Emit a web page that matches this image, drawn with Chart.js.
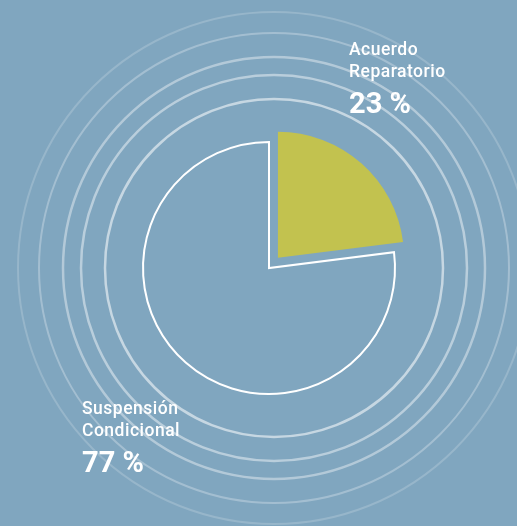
<!DOCTYPE html>
<html lang="es">
<head>
<meta charset="utf-8">
<title>Salidas alternativas</title>
<script src="https://cdn.jsdelivr.net/npm/chart.js@4/dist/chart.umd.min.js"></script>
<style>
html, body { margin: 0; padding: 0; background: #80a6bf; overflow: hidden; }
canvas { display: block; }
</style>
</head>
<body>
<canvas id="pie" width="517" height="526"></canvas>
<script>
// data
const labels = [['Acuerdo', 'Reparatorio'], ['Suspensión', 'Condicional']];
const values = [23, 77];
const fills = ['#c2c24f', 'rgba(0,0,0,0)'];
const borders = ['#c2c24f', '#ffffff'];

// decorative rings round the pie: radius, opacity
const ringRadii = [169, 193, 211, 235, 256];
const ringAlpha = [0.55, 0.45, 0.4, 0.28, 0.18];

// where the label blocks sit (left x, first baseline)
const labelPos = [[349, 55], [82, 414]];

const rings = {
  id: 'rings',
  beforeDatasetsDraw(chart) {
    const arc = chart.getDatasetMeta(0).data[1];
    const ctx = chart.ctx;
    ctx.save();
    for (let i = 0; i < ringRadii.length; i++) {
      ctx.beginPath();
      ctx.strokeStyle = 'rgba(255,255,255,' + ringAlpha[i] + ')';
      ctx.lineWidth = i < 3 ? 2.5 : 2;
      ctx.arc(arc.x + 5, arc.y, ringRadii[i], 0, Math.PI * 2);
      ctx.stroke();
    }
    ctx.restore();
  }
};

const texts = {
  id: 'texts',
  afterDraw(chart) {
    const ctx = chart.ctx;
    ctx.save();
    ctx.fillStyle = '#ffffff';
    ctx.textBaseline = 'alphabetic';
    ctx.textAlign = 'left';
    for (let i = 0; i < labels.length; i++) {
      const [x, y] = labelPos[i];
      ctx.font = '500 17.5px Roboto';
      ctx.letterSpacing = '0.5px';
      labels[i].forEach((l, j) => ctx.fillText(l, x, y + j * 22));
      ctx.font = 'bold 29px Roboto';
      ctx.letterSpacing = '0px';
      ctx.fillText(values[i] + ' %', x, y + 58);
    }
    ctx.restore();
  }
};

new Chart(document.getElementById('pie'), {
  type: 'pie',
  data: {
    labels: labels.map(l => l.join(' ')),
    datasets: [{
      data: values,
      backgroundColor: fills,
      borderColor: borders,
      borderWidth: [0, 2],
      borderJoinStyle: 'miter',
      offset: [54, 0], // arc draws offset / 4 -> about 13px
      radius: 126
    }]
  },
  options: {
    responsive: false,
    animation: false,
    events: [],
    layout: { padding: { left: 21, right: 0, top: 10, bottom: 0 } },
    plugins: {
      legend: { display: false },
      tooltip: { enabled: false }
    }
  },
  plugins: [rings, texts]
});
</script>
</body>
</html>
